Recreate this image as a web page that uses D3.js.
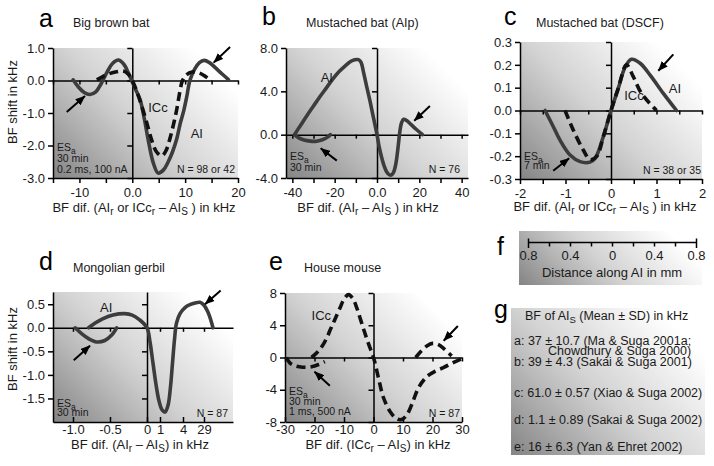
<!DOCTYPE html>
<html>
<head>
<meta charset="utf-8">
<script src="https://cdn.jsdelivr.net/npm/d3@7"></script>
<style>
  body { margin: 0; background: #fff; }
  svg { display: block; font-family: "Liberation Sans", Arial, Helvetica, sans-serif; }
</style>
</head>
<body>
<svg id="chart" width="714" height="466"></svg>
<script>
// ---- panel a : big brown bat ----
var aXTicks = [-15, -10, -5, 0, 5, 10, 15, 20];
var aXLabels = ['', '-10', '', '0.0', '', '10', '', '20'];
var aYTicks = [1, 0, -1, -2, -3];
var aYLabels = ['1.0', '0.0', '-1.0', '-2.0', '-3.0'];
var aAI = [[-11.2, 0.02], [-10.2, -0.2], [-9.1, -0.37], [-8, -0.43], [-6.9, -0.35], [-5.9, -0.1], [-4.8, 0.25], [-3.7, 0.53],
    [-2.65, 0.63], [-1.6, 0.5], [-0.7, 0.22], [0, -0.05], [0.7, -0.3], [1.5, -0.6], [2.3, -1.2], [3, -1.82], [4, -2.55],
    [4.9, -2.85], [5.9, -2.75], [6.8, -2.5], [7.6, -2.2], [8.4, -1.8], [9.1, -1.3], [9.7, -0.95], [10.3, -0.5], [10.9, 0],
    [11.8, 0.35], [12.7, 0.55], [13.6, 0.62], [14.6, 0.55], [15.8, 0.38], [17, 0.2], [18.2, 0.03]];
var aICc = [[-6.7, 0.02], [-5.5, 0.13], [-4.2, 0.22], [-3, 0.27], [-1.7, 0.29], [-0.8, 0.2], [0, 0], [1, -0.4], [2.1, -0.95],
    [3, -1.45], [3.7, -1.85], [4.6, -2.2], [5.6, -2.32], [6.4, -2.15], [7.1, -1.8], [7.8, -1.35], [8.4, -0.9], [9, -0.35],
    [9.5, 0], [10.3, 0.18], [11.3, 0.26], [12.5, 0.24], [13.6, 0.15], [14.7, 0.02]];
var aArrows = [[18.5, 1.03, 15.4, 0.55], [-12.4, -0.97, -8.95, -0.48]];
var aTags = [[3.0, -0.97, 'ICc'], [11.05, -1.77, 'AI']];

// ---- panel b : mustached bat (AIp) ----
var bXTicks = [-40, -30, -20, -10, 0, 10, 20, 30, 40];
var bXLabels = ['-40', '', '-20', '', '0.0', '', '20', '', '40'];
var bYTicks = [8, 4, 0, -4];
var bYLabels = ['8.0', '4.0', '0.0', '-4.0'];
var bDip = [[-39, 0], [-37, -0.3], [-34.5, -0.5], [-31.5, -0.6], [-28.5, -0.6], [-25.5, -0.45], [-23.5, -0.25], [-22, 0]];
var bAI = [[-39, 0], [-36, 0.9], [-33, 1.8], [-30, 2.65], [-27, 3.5], [-24, 4.3], [-21, 5.1], [-18, 5.8], [-15, 6.35],
    [-12.5, 6.75], [-10.5, 6.92], [-8.8, 6.92], [-7.6, 6.7], [-6.3, 5.7], [-4.9, 4.46], [-3.2, 3.0], [-1.6, 1.5], [0, 0],
    [1, -1.1], [2.2, -2.1], [3.4, -2.9], [4.6, -3.45], [5.8, -3.7], [6.9, -3.72], [7.9, -3.45], [8.8, -2.8], [9.5, -1.9],
    [10.1, -0.9], [10.8, 0.3], [11.6, 1.1], [12.6, 1.42], [14, 1.3], [16, 0.95], [18.5, 0.5], [21.5, 0]];
var bArrows = [[25, 2.64, 17.6, 1.29], [-19, -2.4, -26.6, -1.26]];
var bTags = [[-26.6, 4.9, 'AI']];

// ---- panel c : mustached bat (DSCF) ----
var cXTicks = [-2, -1.5, -1, -0.5, 0, 0.5, 1, 1.5, 2];
var cXLabels = ['-2', '', '-1', '', '0', '', '1', '', '2'];
var cYTicks = [0.3, 0.2, 0.1, 0, -0.1, -0.2, -0.3];
var cYLabels = ['0.3', '0.2', '0.1', '0.0', '-0.1', '-0.2', '-0.3'];
var cAI = [[-1.45, 0], [-1.27, -0.07], [-1.12, -0.13], [-0.9, -0.195], [-0.68, -0.224], [-0.46, -0.226], [-0.35, -0.21],
    [-0.17, -0.115], [0, 0], [0.16, 0.097], [0.31, 0.19], [0.45, 0.224], [0.64, 0.207], [0.86, 0.155], [1.15, 0.075], [1.44, 0]];
var cICc = [[-1.01, 0], [-0.83, -0.085], [-0.61, -0.173], [-0.46, -0.215], [-0.31, -0.2], [-0.17, -0.115], [0, 0],
    [0.16, 0.097], [0.34, 0.2], [0.49, 0.148], [0.67, 0.075], [1.0, 0]];
var cArrows = [[1.37, 0.246, 1.04, 0.174], [-1.27, -0.264, -0.92, -0.209]];
var cTags = [[1.27, 0.075, 'AI'], [0.29, 0.046, 'ICc']];

// ---- panel d : mongolian gerbil (right half of the axis is not linear) ----
var dXTicks = [-1, -0.5, 0, 1, 4, 29];
var dXLabels = ['-1.0', '-0.5', '0', '1', '4', '29'];
var dYTicks = [0.5, 0, -0.5, -1, -1.5];
var dYLabels = ['0.5', '0.0', '-0.5', '-1.0', '-1.5'];
var dDip = [[-0.97, 0], [-0.88, -0.13], [-0.79, -0.23], [-0.68, -0.3], [-0.57, -0.27], [-0.48, -0.16], [-0.41, 0]];
var dAI = [[-0.79, 0], [-0.7, 0.1], [-0.6, 0.19], [-0.46, 0.27], [-0.3, 0.3], [-0.2, 0.27], [-0.1, 0.17], [0, 0],
    [0.23, -0.3], [0.46, -0.75], [0.69, -1.2], [0.92, -1.55], [1.26, -1.74], [1.65, -1.79], [2.04, -1.65], [2.37, -1.25],
    [2.63, -0.75], [2.89, -0.25], [3.15, 0.1], [3.61, 0.3], [6.4, 0.43], [12.3, 0.49], [18.3, 0.525], [24.2, 0.54],
    [29, 0.48], [33.3, 0.33], [36.5, 0.15], [38.6, 0]];
var dArrows = [[46.8, 0.79, 30.1, 0.5], [-0.99, -0.69, -0.77, -0.38]];
var dTags = [[-0.635, 0.345, 'AI']];

// ---- panel e : house mouse ----
var eXTicks = [-30, -20, -10, 0, 10, 20, 30];
var eXLabels = ['-30', '-20', '-10', '0', '10', '20', '30'];
var eYTicks = [8, 4, 0, -4, -8];
var eYLabels = ['8', '4', '0', '-4', '-8'];
var eDip = [[-29.5, 0], [-28.3, -0.7], [-26.5, -1.05], [-24, -1.2], [-21, -1.15], [-18.5, -0.85], [-16.5, -0.5]];
var eICc = [[-21, 0], [-19.3, 0.55], [-17.6, 1.3], [-16, 2.3], [-14.7, 3.4], [-13.6, 4.3], [-12.5, 5.2], [-11.3, 6.2],
    [-10.2, 7.1], [-8.5, 7.8], [-7, 7.3], [-5.7, 6.2], [-4.3, 4.6], [-2.9, 3.0], [-1.4, 1.4], [0, 0], [1.6, -2.4],
    [3.3, -4.9], [5.6, -6.7], [7.9, -7.6], [9.5, -7.7], [11.3, -7.1], [12.9, -5.9], [15.2, -3.8], [18, -2.4], [21, -1.7],
    [24, -1.2], [27, -0.65], [30, -0.15]];
var eHump = [[14.3, 0], [16.2, 0.8], [18.2, 1.45], [20, 1.75], [22, 1.6], [24, 1.05], [26.5, 0.2]];
var eArrows = [[28.6, 3.9, 23.8, 2.08], [-14.8, -3.5, -20, -1.76]];
var eTags = [[-21, 4.65, 'ICc']];

// ---- panel f : distance scale ----
var fTicks = [-0.8, -0.6, -0.4, -0.2, 0, 0.2, 0.4, 0.6, 0.8];
var fLabels = ['0.8', '', '0.4', '', '0', '', '0.4', '', '0.8'];

// ---- panel g : BF of AIs table ----
var gHead = ['BF of AI', ['S'], ' (Mean ± SD) in kHz'];
var gLines = [
    'a: 37 ± 10.7 (Ma & Suga 2001a;',
    'Chowdhury & Suga 2000)',
    'b: 39 ± 4.3 (Sakai & Suga 2001)',
    'c: 61.0 ± 0.57 (Xiao & Suga 2002)',
    'd: 1.1 ± 0.89 (Sakai & Suga 2002)',
    'e: 16 ± 6.3 (Yan & Ehret 2002)'
];

var svg = d3.select('#chart');
var defs = svg.append('defs');
var INK = '#1a1a1a';

defs.append('marker')
    .attr('id', 'head')
    .attr('viewBox', '0 0 10 8')
    .attr('refX', 9.5)
    .attr('refY', 4)
    .attr('markerUnits', 'userSpaceOnUse')
    .attr('markerWidth', 10)
    .attr('markerHeight', 8)
    .attr('orient', 'auto')
    .append('path')
    .attr('d', 'M0,0L10,4L0,8Z')
    .attr('fill', '#000');

// grey wash, dark in the lower left corner and white towards the upper right
function shade(id, x0, y0, x1, y1) {
    var span = ((x1 - x0) + (y1 - y0)) / 2;
    var grad = defs.append('linearGradient')
        .attr('id', id)
        .attr('gradientUnits', 'userSpaceOnUse')
        .attr('x1', x0).attr('y1', y1)
        .attr('x2', x0 + span).attr('y2', y1 - span);
    [[0, '#848484'], [0.3, '#bababa'], [0.45, '#d3d3d3'], [0.7, '#eeeeee'], [0.86, '#ffffff']].forEach(function (s) {
        grad.append('stop').attr('offset', s[0]).attr('stop-color', s[1]);
    });
    svg.append('rect')
        .attr('x', x0).attr('y', y0)
        .attr('width', x1 - x0).attr('height', y1 - y0)
        .attr('fill', 'url(#' + id + ')');
}

// text made of plain strings and one-element arrays for subscripts
function rich(sel, parts, subSize) {
    var low = false;
    parts.forEach(function (p) {
        var isSub = typeof p !== 'string';
        var t = sel.append('tspan').text(isSub ? p[0] : p);
        if (isSub && !low) t.attr('dy', 3);
        if (!isSub && low) t.attr('dy', -3);
        if (isSub) t.attr('font-size', subSize);
        low = isSub;
    });
    return sel;
}

function styleAxis(sel, size) {
    sel.attr('font-family', null).attr('font-size', size);
    sel.selectAll('path, line').attr('stroke', '#000').attr('stroke-width', 1.5);
    sel.selectAll('text').attr('fill', INK);
}

function drawPanel(p) {
    var x = d3.scaleLinear().domain(p.xDomain).range(p.xRange);
    var y = d3.scaleLinear().domain(p.yDomain).range([p.bottom, p.top]);
    var left = p.xRange[0], right = p.xRange[p.xRange.length - 1];

    shade('shade-' + p.id, left, p.top, right, p.bottom);
    var g = svg.append('g').attr('class', 'panel-' + p.id);

    // horizontal zero line
    g.append('g')
        .attr('transform', 'translate(0,' + y(0) + ')')
        .call(d3.axisBottom(x).tickValues(p.xTicks.filter(function (d) { return d !== 0; }))
            .tickSize(4).tickSizeOuter(0).tickFormat(''))
        .call(styleAxis, 13);

    // vertical line through x = 0
    g.append('g')
        .attr('transform', 'translate(' + x(0) + ',0)')
        .call(d3.axisLeft(y).tickValues(p.yTicks).tickSize(5).tickSizeOuter(0).tickFormat(''))
        .call(styleAxis, 13);

    g.append('g')
        .attr('transform', 'translate(' + left + ',0)')
        .call(d3.axisLeft(y).tickValues(p.yTicks)
            .tickFormat(function (d, i) { return p.yLabels[i]; })
            .tickSize(5).tickPadding(3).tickSizeOuter(0))
        .call(styleAxis, 13);

    g.append('g')
        .attr('transform', 'translate(0,' + p.bottom + ')')
        .call(d3.axisBottom(x).tickValues(p.xTicks)
            .tickFormat(function (d, i) { return p.xLabels[i]; })
            .tickSizeInner(p.tickIn ? -5 : 5).tickPadding(p.tickIn ? 3 : 5).tickSizeOuter(0))
        .call(styleAxis, 13);

    var line = d3.line()
        .x(function (d) { return x(d[0]); })
        .y(function (d) { return y(d[1]); })
        .curve(d3.curveCatmullRom.alpha(0.5));

    p.curves.forEach(function (c) {
        g.append('path')
            .datum(c.data)
            .attr('d', line)
            .attr('fill', 'none')
            .attr('stroke', c.dashed ? '#111' : '#3c3c3c')
            .attr('stroke-width', 3.6)
            .attr('stroke-linecap', c.dashed ? 'butt' : 'round')
            .attr('stroke-linejoin', 'round')
            .attr('stroke-dasharray', c.dashed ? '9,5' : null);
    });

    g.selectAll('line.arrow')
        .data(p.arrows)
        .enter().append('line')
        .attr('class', 'arrow')
        .attr('x1', function (d) { return x(d[0]); })
        .attr('y1', function (d) { return y(d[1]); })
        .attr('x2', function (d) { return x(d[2]); })
        .attr('y2', function (d) { return y(d[3]); })
        .attr('stroke', '#000')
        .attr('stroke-width', 2)
        .attr('marker-end', 'url(#head)');

    g.selectAll('text.tag')
        .data(p.tags)
        .enter().append('text')
        .attr('class', 'tag')
        .attr('x', function (d) { return x(d[0]); })
        .attr('y', function (d) { return y(d[1]); })
        .attr('font-size', 13)
        .attr('fill', INK)
        .text(function (d) { return d[2]; });

    p.notes.forEach(function (n, i) {
        var t = g.append('text')
            .attr('x', left + 4)
            .attr('y', p.noteY + i * p.noteStep)
            .attr('font-size', 10.5)
            .attr('fill', INK);
        rich(t, n, 8.5);
    });

    g.append('text')
        .attr('x', right - p.nInset)
        .attr('y', p.bottom - 5.5)
        .attr('text-anchor', 'end')
        .attr('font-size', 10.5)
        .attr('fill', INK)
        .text(p.nText);

    g.append('text')
        .attr('x', p.letter[0]).attr('y', p.letter[1])
        .attr('font-size', 25)
        .attr('fill', '#000')
        .text(p.id);
    g.append('text')
        .attr('x', p.title[0]).attr('y', p.title[1])
        .attr('font-size', 12.5)
        .attr('fill', INK)
        .text(p.title[2]);

    var xt = g.append('text')
        .attr('x', p.xTitlePos[0]).attr('y', p.xTitlePos[1])
        .attr('text-anchor', 'middle')
        .attr('font-size', 13)
        .attr('fill', INK);
    rich(xt, p.xTitle, 10);

    if (p.yTitle) {
        g.append('text')
            .attr('transform', 'translate(' + p.yTitle[0] + ',' + p.yTitle[1] + ')rotate(-90)')
            .attr('text-anchor', 'middle')
            .attr('font-size', 13)
            .attr('fill', INK)
            .text('BF shift in kHz');
    }
}

var titleAIorICc = ['BF dif. (AI', ['r'], ' or ICc', ['r'], ' – AI', ['S'], ' ) in kHz'];

var panels = [
    {
        id: 'a', xDomain: [-15, 20], xRange: [53, 238], yDomain: [-3, 1], top: 48, bottom: 178,
        xTicks: aXTicks, xLabels: aXLabels, yTicks: aYTicks, yLabels: aYLabels,
        curves: [{data: aAI}, {data: aICc, dashed: true}], arrows: aArrows, tags: aTags,
        notes: [['ES', ['a']], ['30 min'], ['0.2 ms, 100 nA']], noteY: 151, noteStep: 10.8,
        nText: 'N = 98 or 42', nInset: 3,
        letter: [39, 27], title: [73, 27, 'Big brown bat'],
        xTitle: titleAIorICc, xTitlePos: [144, 212], yTitle: [17, 102]
    },
    {
        id: 'b', xDomain: [-43, 43], xRange: [286, 468], yDomain: [-4, 8], top: 48, bottom: 178,
        xTicks: bXTicks, xLabels: bXLabels, yTicks: bYTicks, yLabels: bYLabels,
        curves: [{data: bDip}, {data: bAI}], arrows: bArrows, tags: bTags,
        notes: [['ES', ['a']], ['30 min']], noteY: 160, noteStep: 10.5,
        nText: 'N = 76', nInset: 8,
        letter: [262, 25], title: [306, 27, 'Mustached bat (AIp)'],
        xTitle: ['BF dif. (AI', ['r'], ' – AI', ['S'], ' ) in kHz'], xTitlePos: [368, 212]
    },
    {
        id: 'c', xDomain: [-2, 2], xRange: [520, 702], yDomain: [-0.3, 0.3], top: 42, bottom: 179,
        xTicks: cXTicks, xLabels: cXLabels, yTicks: cYTicks, yLabels: cYLabels,
        curves: [{data: cAI}, {data: cICc, dashed: true}], arrows: cArrows, tags: cTags,
        notes: [['ES', ['a']], ['7 min']], noteY: 160, noteStep: 9,
        nText: 'N = 38 or 35', nInset: 1,
        letter: [504, 25], title: [536, 27, 'Mustached bat (DSCF)'],
        xTitle: titleAIorICc, xTitlePos: [605, 211]
    },
    {
        id: 'd', xDomain: [-1.27, 0, 1, 4, 29, 60], xRange: [53, 147, 160, 183, 204, 233],
        yDomain: [-2, 0.76], top: 292, bottom: 422, tickIn: true,
        xTicks: dXTicks, xLabels: dXLabels, yTicks: dYTicks, yLabels: dYLabels,
        curves: [{data: dDip}, {data: dAI}], arrows: dArrows, tags: dTags,
        notes: [['ES', ['a']], ['30 min']], noteY: 406.5, noteStep: 9.8,
        nText: 'N = 87', nInset: 5,
        letter: [39, 270], title: [73, 272, 'Mongolian gerbil'],
        xTitle: ['BF dif. (AI', ['r'], ' – AI', ['S'], ') in kHz'], xTitlePos: [140, 449], yTitle: [17, 349]
    },
    {
        id: 'e', xDomain: [-30, 30], xRange: [285, 462], yDomain: [-8, 8], top: 293, bottom: 422, tickIn: true,
        xTicks: eXTicks, xLabels: eXLabels, yTicks: eYTicks, yLabels: eYLabels,
        curves: [{data: eDip, dashed: true}, {data: eICc, dashed: true}, {data: eHump, dashed: true}],
        arrows: eArrows, tags: eTags,
        notes: [['ES', ['a']], ['30 min'], ['1 ms, 500 nA']], noteY: 395, noteStep: 10,
        nText: 'N = 87', nInset: 2,
        letter: [269, 270], title: [304, 272, 'House mouse'],
        xTitle: ['BF dif. (ICc', ['r'], ' – AI', ['S'], ') in kHz'], xTitlePos: [378, 449]
    }
];

panels.forEach(drawPanel);

// ---- panel f ----
shade('shade-f', 519, 231, 702, 285);
var fx = d3.scaleLinear().domain([-0.8, 0.8]).range([528, 696]);
var fAxis = svg.append('g')
    .attr('transform', 'translate(0,242)')
    .call(d3.axisBottom(fx).tickValues(fTicks)
        .tickFormat(function (d, i) { return fLabels[i]; })
        .tickSize(4.5).tickPadding(4).tickSizeOuter(0))
    .call(styleAxis, 13);
fAxis.selectAll('.tick line')
    .filter(function (d, i) { return i === 0 || i === fTicks.length - 1; })
    .attr('y1', -3.5).attr('y2', 6);
svg.append('text')
    .attr('x', 612).attr('y', 277)
    .attr('text-anchor', 'middle')
    .attr('font-size', 13)
    .attr('fill', INK)
    .text('Distance along AI in mm');
svg.append('text')
    .attr('x', 497).attr('y', 255)
    .attr('font-size', 25)
    .text('f');

// ---- panel g ----
shade('shade-g', 511, 308, 705, 455);
svg.append('text')
    .attr('x', 494).attr('y', 318)
    .attr('font-size', 25)
    .text('g');
rich(svg.append('text')
    .attr('x', 525).attr('y', 320)
    .attr('font-size', 12.5)
    .attr('fill', INK), gHead, 9.5);

var gLayout = [[514, 344.5], [548, 355], [514, 365.5], [514, 396.5], [514, 423.5], [514, 450.5]];
svg.selectAll('text.gline')
    .data(gLines)
    .enter().append('text')
    .attr('class', 'gline')
    .attr('x', function (d, i) { return gLayout[i][0]; })
    .attr('y', function (d, i) { return gLayout[i][1]; })
    .attr('font-size', 12.5)
    .attr('fill', INK)
    .text(function (d) { return d; });
</script>
</body>
</html>
